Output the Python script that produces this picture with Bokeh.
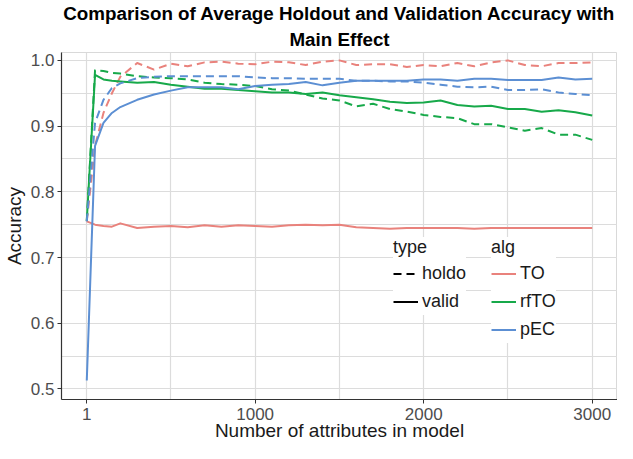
from bokeh.plotting import figure
from bokeh.models import FixedTicker, Legend, LegendItem, Title, Range1d
from bokeh.embed import file_html
from bokeh.resources import INLINE

n_attr = [1, 50, 100, 150, 200, 300, 400, 500, 600, 700, 800, 900, 1000,
          1100, 1200, 1300, 1400, 1500, 1600, 1700, 1800, 1900, 2000,
          2100, 2200, 2300, 2400, 2500, 2600, 2700, 2800, 2900, 3000]

to_holdout = [0.755, 0.870, 0.920, 0.950, 0.975, 0.996, 0.986, 0.995, 0.991, 0.997, 0.998,
              0.995, 0.994, 0.998, 0.997, 0.993, 0.998, 1.000, 0.993, 0.994, 0.994, 0.990,
              0.993, 0.991, 0.996, 0.991, 0.997, 1.000, 0.993, 0.991, 0.996, 0.996, 0.997]
to_valid = [0.755, 0.750, 0.748, 0.747, 0.752, 0.745, 0.747, 0.748, 0.746, 0.749, 0.747,
            0.749, 0.748, 0.747, 0.749, 0.750, 0.749, 0.750, 0.746, 0.745, 0.744, 0.745,
            0.745, 0.745, 0.745, 0.744, 0.745, 0.745, 0.745, 0.745, 0.745, 0.745, 0.745]
rfto_holdout = [0.756, 0.985, 0.984, 0.981, 0.980, 0.976, 0.974, 0.973, 0.971, 0.966, 0.964,
                0.963, 0.961, 0.956, 0.954, 0.948, 0.942, 0.939, 0.930, 0.934, 0.926, 0.922,
                0.917, 0.914, 0.912, 0.903, 0.903, 0.898, 0.893, 0.897, 0.887, 0.887, 0.879]
rfto_valid = [0.756, 0.978, 0.971, 0.969, 0.968, 0.966, 0.967, 0.963, 0.960, 0.957, 0.957,
              0.955, 0.953, 0.951, 0.951, 0.949, 0.951, 0.947, 0.944, 0.941, 0.937, 0.935,
              0.936, 0.939, 0.932, 0.930, 0.931, 0.926, 0.926, 0.922, 0.924, 0.921, 0.916]
pec_holdout = [0.755, 0.905, 0.940, 0.958, 0.965, 0.973, 0.975, 0.976, 0.976, 0.976, 0.976,
               0.976, 0.974, 0.973, 0.973, 0.972, 0.972, 0.972, 0.969, 0.969, 0.968, 0.968,
               0.966, 0.963, 0.960, 0.959, 0.960, 0.955, 0.955, 0.956, 0.951, 0.949, 0.947]
pec_valid = [0.513, 0.870, 0.905, 0.920, 0.929, 0.940, 0.948, 0.954, 0.959, 0.959, 0.959,
             0.956, 0.961, 0.963, 0.964, 0.967, 0.962, 0.966, 0.969, 0.969, 0.969, 0.969,
             0.971, 0.971, 0.969, 0.972, 0.972, 0.970, 0.970, 0.970, 0.974, 0.971, 0.972]

alg_names = ["TO", "rfTO", "pEC"]
type_names = ["holdo", "valid"]
alg_colors = ["#E9827C", "#17A94A", "#5C8FD3"]
x_ticks = [1, 1000, 2000, 3000]
x_minor = [500, 1500, 2500]
y_ticks = [0.5, 0.6, 0.7, 0.8, 0.9, 1.0]
y_minor = [0.55, 0.65, 0.75, 0.85, 0.95]

FONT = "Liberation Sans"
DASH = "8 5"
NAN = float("nan")

p = figure(width=617, height=443, output_backend="svg", toolbar_location=None,
           title=None, x_range=Range1d(-149, 3150), y_range=Range1d(0.484, 1.012),
           min_border_left=52, min_border_right=0, min_border_top=0, min_border_bottom=0)

p.background_fill_color = "white"
p.border_fill_color = "white"
p.outline_line_color = "#d9d9d9"

series = [
    (to_holdout, 0, DASH), (to_valid, 0, "solid"),
    (rfto_holdout, 1, DASH), (rfto_valid, 1, "solid"),
    (pec_holdout, 2, DASH), (pec_valid, 2, "solid"),
]
for ys, ci, dash in series:
    p.line(n_attr, ys, line_color=alg_colors[ci], line_width=2, line_dash=dash,
           line_join="round")

# axes
p.xaxis.ticker = FixedTicker(ticks=x_ticks, minor_ticks=x_minor)
p.yaxis.ticker = FixedTicker(ticks=y_ticks, minor_ticks=y_minor)
p.xaxis.major_label_overrides = {1: "1", 1000: "1000", 2000: "2000", 3000: "3000"}
p.yaxis.major_label_overrides = {v: f"{v:.1f}" for v in y_ticks}
for ax in (p.xaxis[0], p.yaxis[0]):
    ax.axis_line_color = "#333333"
    ax.axis_line_width = 1.2
    ax.major_tick_line_color = "#333333"
    ax.major_tick_out = 4
    ax.major_tick_in = 0
    ax.minor_tick_out = 0
    ax.minor_tick_in = 0
    ax.major_label_text_font = FONT
    ax.major_label_text_font_size = "17px"
    ax.major_label_text_color = "#4d4d4d"
    ax.major_label_standoff = 3
    ax.axis_label_text_font = FONT
    ax.axis_label_text_font_size = "19px"
    ax.axis_label_text_font_style = "normal"
    ax.axis_label_text_color = "#1a1a1a"
p.xaxis.axis_label = "Number of attributes in model"
p.yaxis.axis_label = "Accuracy"
p.xaxis.major_label_standoff = 4
p.xaxis.axis_label_standoff = -3
p.yaxis.axis_label_standoff = 3

for g in (p.xgrid[0], p.ygrid[0]):
    g.grid_line_color = "#dcdcdc"
    g.grid_line_width = 1.2
    g.minor_grid_line_color = "#dcdcdc"
    g.minor_grid_line_width = 1.2

# titles (two lines)
t2 = Title(text="Main Effect", align="center", text_font=FONT, text_font_size="18.8px",
           text_font_style="bold", text_color="black", standoff=6, offset=0)
t1 = Title(text="Comparison of Average Holdout and Validation Accuracy with", align="center",
           text_font=FONT, text_font_size="18.8px", text_font_style="bold",
           text_color="black", standoff=0, offset=0)
p.add_layout(t2, "above")
p.add_layout(t1, "above")

# legends
type_r = [p.line([0, 1], [NAN, NAN], line_color="black", line_width=2, line_dash=DASH),
          p.line([0, 1], [NAN, NAN], line_color="black", line_width=2)]
alg_r = [p.line([0, 1], [NAN, NAN], line_color=c, line_width=2) for c in alg_colors]

def make_legend(title, names, rends, loc):
    lg = Legend(items=[LegendItem(label=n, renderers=[r]) for n, r in zip(names, rends)],
                title=title, location=loc, orientation="vertical")
    lg.title_text_font = FONT
    lg.title_text_font_size = "18px"
    lg.title_text_font_style = "normal"
    lg.title_text_color = "#1a1a1a"
    lg.title_standoff = 2
    lg.label_text_font = FONT
    lg.label_text_font_size = "18px"
    lg.label_text_color = "#1a1a1a"
    lg.glyph_width = 25
    lg.glyph_height = 27
    lg.label_height = 27
    lg.label_standoff = 4
    lg.spacing = 1
    lg.padding = 3
    lg.margin = 0
    lg.border_line_color = None
    lg.background_fill_color = "white"
    lg.background_fill_alpha = 1.0
    return lg

p.add_layout(make_legend("type", type_names, type_r, (332, 84)))
p.add_layout(make_legend("alg", alg_names, alg_r, (430, 56)))

open("out.html", "w").write(file_html(p, INLINE))
